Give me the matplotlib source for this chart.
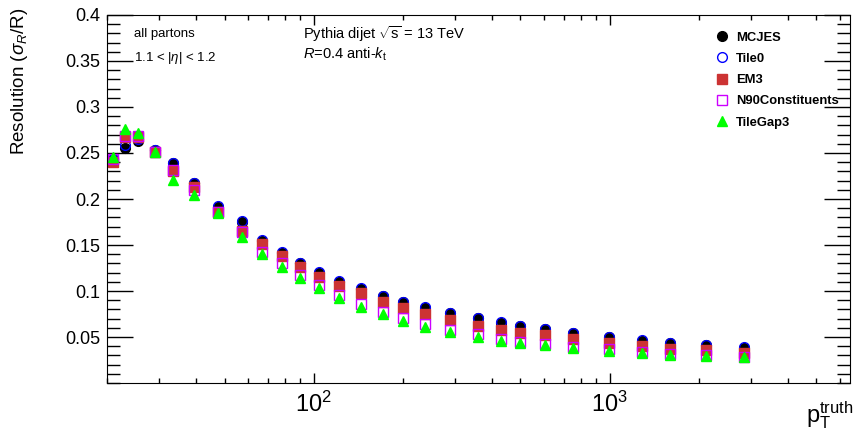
import matplotlib
matplotlib.use("Agg")
import matplotlib.pyplot as plt
from matplotlib.ticker import FixedLocator, NullFormatter, MultipleLocator

plt.rcParams['font.family'] = ['Liberation Sans', 'DejaVu Sans']
plt.rcParams['mathtext.fontset'] = 'custom'
plt.rcParams['mathtext.rm'] = 'Liberation Sans'
plt.rcParams['mathtext.it'] = 'Liberation Sans:italic'
plt.rcParams['mathtext.bf'] = 'Liberation Sans:bold'

# truth pT bin centres (GeV)
pt = [21, 23, 25.5, 29, 33.5, 39.5, 47.5, 57, 67, 78, 90, 104, 122, 145,
      171, 200, 237, 288, 358, 428, 500, 603, 755, 993, 1283, 1607, 2127, 2858]

mcjes = [0.243, 0.2558, 0.2634, 0.2532, 0.2388, 0.217, 0.1917, 0.1754, 0.1547, 0.1417,
         0.130, 0.1199, 0.1101, 0.1025, 0.0946, 0.0877, 0.0819, 0.0757, 0.0703, 0.0656,
         0.062, 0.0587, 0.054, 0.0497, 0.046, 0.0431, 0.0413, 0.0384]
tile0 = [0.243, 0.2587, 0.265, 0.2535, 0.239, 0.2172, 0.192, 0.1757, 0.155, 0.142,
         0.1303, 0.1202, 0.1104, 0.1028, 0.0949, 0.088, 0.0822, 0.076, 0.0706, 0.0659,
         0.0623, 0.059, 0.0543, 0.05, 0.0463, 0.0434, 0.0416, 0.0387]
em3 = [0.2406, 0.2678, 0.267, 0.251, 0.2308, 0.2127, 0.1862, 0.1656, 0.1511, 0.138,
       0.1257, 0.1156, 0.1054, 0.0975, 0.0884, 0.0812, 0.0747, 0.0685, 0.0623, 0.0576,
       0.0547, 0.0522, 0.0475, 0.0438, 0.0402, 0.0366, 0.0359, 0.0322]
n90 = [0.244, 0.268, 0.268, 0.2515, 0.231, 0.2098, 0.186, 0.164, 0.1428, 0.130,
       0.1174, 0.1065, 0.0957, 0.0855, 0.0772, 0.0703, 0.0638, 0.0576, 0.0529, 0.0475,
       0.0449, 0.0424, 0.0395, 0.0366, 0.034, 0.0312, 0.0304, 0.0286]
tilegap3 = [0.2453, 0.2757, 0.2714, 0.2507, 0.2207, 0.2043, 0.1844, 0.159, 0.1399, 0.1264,
            0.1138, 0.1029, 0.092, 0.083, 0.0747, 0.0674, 0.0612, 0.0558, 0.0504, 0.0457,
            0.0431, 0.041, 0.0377, 0.0348, 0.033, 0.0301, 0.0293, 0.0279]

fig = plt.figure(figsize=(8.54, 4.32), dpi=100)
ax = fig.add_axes([0.1253, 0.1134, 0.8700, 0.8519])

ms = 7
ax.plot(pt, mcjes, 'o', color='black', ms=ms, label='MCJES')
ax.plot(pt, tile0, 'o', mfc='none', mec='#0000ff', mew=1.0, ms=ms, label='Tile0')
ax.plot(pt, em3, 's', color='#cc3333', ms=ms - 0.5, label='EM3')
ax.plot(pt, n90, 's', mfc='none', mec='#cc00ff', mew=1.0, ms=ms - 0.5, label='N90Constituents')
ax.plot(pt, tilegap3, '^', color='#00ff00', ms=ms, label='TileGap3')

ax.set_xscale('log')
ax.set_xlim(20, 6500)
ax.set_ylim(0, 0.4)

ax.xaxis.set_major_locator(FixedLocator([100, 1000]))
ax.set_xticklabels(['$10^{2}$', '$10^{3}$'], fontsize=17)
minors = [v * d for d in (10, 100, 1000) for v in range(2, 10)]
ax.xaxis.set_minor_locator(FixedLocator(minors))
ax.xaxis.set_minor_formatter(NullFormatter())

ax.yaxis.set_minor_locator(MultipleLocator(0.01))
ax.set_yticks([0.05, 0.1, 0.15, 0.2, 0.25, 0.3, 0.35, 0.4])
ax.set_yticklabels(['0.05', '0.1', '0.15', '0.2', '0.25', '0.3', '0.35', '0.4'], fontsize=13)

ax.tick_params(which='both', direction='in', top=True, right=True, width=1)
ax.tick_params(axis='y', which='major', length=19, pad=5)
ax.tick_params(axis='y', which='minor', length=9.5)
ax.tick_params(axis='x', which='major', length=7, pad=6)
ax.tick_params(axis='x', which='minor', length=3.3)

fig.text(20 / 854, 1 - 8 / 432, r'Resolution ($\sigma_{R}$/R)', fontsize=13.5,
         rotation=90, ha='center', va='top')
fig.text(0.999, 0.003, r'p$_{\rm T}^{\rm truth}$', fontsize=17, ha='right', va='bottom')

ax.text(0.036, 0.948, 'all partons', transform=ax.transAxes, fontsize=9.5, va='center')
ax.text(0.036, 0.883, r'1.1 < |$\eta$| < 1.2', transform=ax.transAxes, fontsize=9.5, va='center')
ax.text(0.264, 0.948, r'Pythia dijet $\sqrt{\rm s}$ = 13 TeV', transform=ax.transAxes,
        fontsize=10.5, va='center')
ax.text(0.264, 0.893, r'$R$=0.4 anti-$k_{\rm t}$', transform=ax.transAxes, fontsize=10.5, va='center')

ax.legend(loc='upper left', bbox_to_anchor=(0.81, 0.973), frameon=False,
          prop={'weight': 'bold', 'size': 9.4}, handlelength=1.0, handletextpad=0.6,
          labelspacing=0.7, borderpad=0, numpoints=1)

fig.savefig('out.png', dpi=100)
